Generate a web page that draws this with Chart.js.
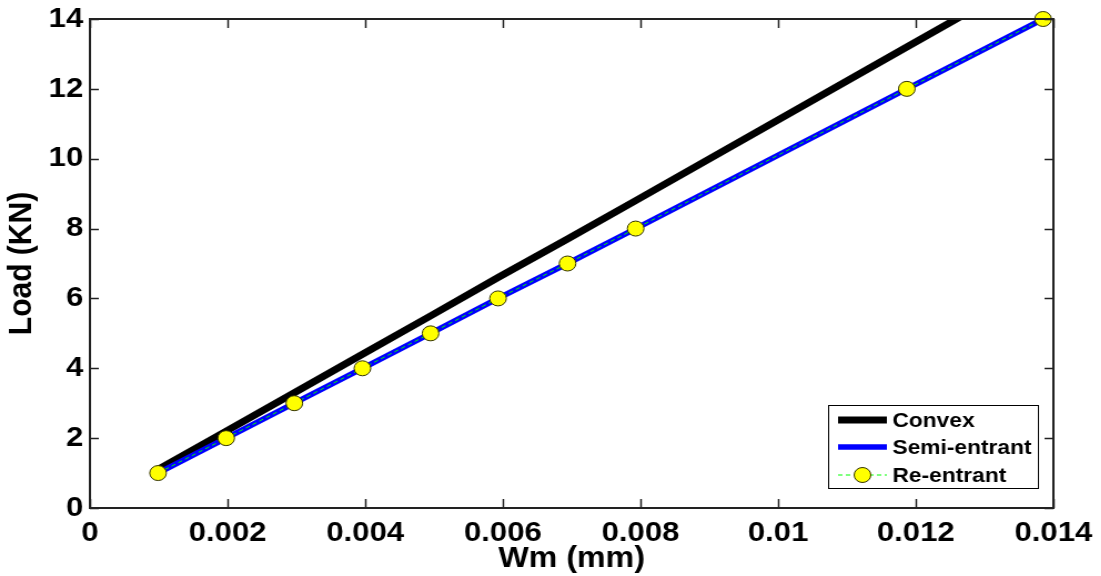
<!DOCTYPE html>
<html>
<head>
<meta charset="utf-8">
<script src="https://cdn.jsdelivr.net/npm/chart.js@4.4.1/dist/chart.umd.min.js"></script>
<style>
  html, body { margin: 0; padding: 0; background: #fff; overflow: hidden; }
  #wrap { width: 992px; height: 576px; transform: scaleX(1.11); transform-origin: 0 0; }
</style>
</head>
<body>
<div id="wrap"><canvas id="loadChart" width="992" height="576"></canvas></div>
<script>
// values
const wm = [0.00099, 0.00198, 0.00297, 0.00396, 0.00495, 0.00593, 0.00694, 0.00793, 0.01187, 0.01385];
const loadConvex = [1.1, 2.2, 3.3, 4.4, 5.5, 6.6, 7.7, 8.8, 13.2, 15.4];
const loadSemi = [1, 2, 3, 4, 5, 6, 7, 8, 12, 14];
const loadRe = [1, 2, 3, 4, 5, 6, 7, 8, 12, 14];
const seriesNames = ['Convex', 'Semi-entrant', 'Re-entrant'];

function toPoints(ys) {
    let pts = [];
    for (let i = 0; i < wm.length; i++) {
        pts.push({x: wm[i], y: ys[i]});
    }
    return pts;
}

Chart.defaults.font.family = "'Liberation Sans', Arial, sans-serif";
Chart.defaults.font.weight = 'bold';
Chart.defaults.color = '#000';

// inward ticks on all four sides plus the box
const frameTicks = {
    id: 'frameTicks',
    afterDraw(chart) {
        const ctx = chart.ctx;
        const a = chart.chartArea;
        const xs = chart.scales.x, ys = chart.scales.y;
        ctx.save();
        ctx.strokeStyle = '#222';
        ctx.lineWidth = 1.5;
        ctx.beginPath();
        xs.ticks.forEach(t => {
            const px = Math.round(xs.getPixelForValue(t.value)) + 0.5;
            ctx.moveTo(px, a.bottom); ctx.lineTo(px, a.bottom - 9);
            ctx.moveTo(px, a.top); ctx.lineTo(px, a.top + 9);
        });
        ys.ticks.forEach(t => {
            const py = Math.round(ys.getPixelForValue(t.value)) + 0.5;
            ctx.moveTo(a.left, py); ctx.lineTo(a.left + 8, py);
            ctx.moveTo(a.right, py); ctx.lineTo(a.right - 8, py);
        });
        ctx.stroke();
        ctx.lineWidth = 2;
        ctx.strokeRect(a.left, a.top, a.right - a.left, a.bottom - a.top);
        ctx.restore();
    }
};

// legend box inside the plot, bottom right
const boxLegend = {
    id: 'boxLegend',
    afterDraw(chart) {
        const ctx = chart.ctx;
        const left = 746, top = 405, w = 189, h = 83;
        ctx.save();
        ctx.fillStyle = '#fff';
        ctx.fillRect(left, top, w, h);
        ctx.strokeStyle = '#000';
        ctx.lineWidth = 1;
        ctx.strokeRect(left + 0.5, top + 0.5, w, h);
        const rows = [420, 447, 475];
        ctx.font = "bold 20.5px 'Liberation Sans', Arial, sans-serif";
        ctx.textBaseline = 'middle';
        chart.data.datasets.forEach((ds, i) => {
            const y = rows[i];
            ctx.beginPath();
            ctx.strokeStyle = ds.borderColor;
            ctx.lineWidth = ds.borderWidth;
            ctx.setLineDash(ds.borderDash || []);
            ctx.moveTo(755, y);
            ctx.lineTo(799, y);
            ctx.stroke();
            ctx.setLineDash([]);
            if (ds.pointRadius > 0) {
                ctx.beginPath();
                ctx.arc(777, y, ds.pointRadius, 0, Math.PI * 2);
                ctx.fillStyle = ds.pointBackgroundColor;
                ctx.fill();
                ctx.lineWidth = ds.pointBorderWidth;
                ctx.strokeStyle = ds.pointBorderColor;
                ctx.stroke();
            }
            ctx.fillStyle = '#000';
            ctx.fillText(ds.label, 804, y + 1);
        });
        ctx.restore();
    }
};

const ctx = document.getElementById('loadChart').getContext('2d');
const chart = new Chart(ctx, {
    type: 'line',
    data: {
        datasets: [{
            label: seriesNames[0],
            data: toPoints(loadConvex),
            borderColor: '#000000',
            borderWidth: 7,
            pointRadius: 0,
            tension: 0,
            clip: 0,
            order: 3
        }, {
            label: seriesNames[1],
            data: toPoints(loadSemi),
            borderColor: '#0000ff',
            borderWidth: 5.5,
            pointRadius: 0,
            tension: 0,
            order: 2
        }, {
            label: seriesNames[2],
            data: toPoints(loadRe),
            borderColor: '#00ff00',
            borderWidth: 1,
            borderDash: [4, 3],
            pointRadius: 7.5,
            pointHoverRadius: 7.5,
            pointBackgroundColor: '#ffff00',
            pointBorderColor: '#333300',
            pointBorderWidth: 1,
            tension: 0,
            clip: false,
            order: 1
        }]
    },
    options: {
        responsive: false,
        animation: false,
        layout: { padding: { left: 0, right: 43, top: 19, bottom: 0 } },
        plugins: { legend: { display: false }, tooltip: { enabled: false } },
        scales: {
            x: {
                type: 'linear',
                min: 0,
                max: 0.014,
                grid: { display: false, drawTicks: false },
                border: { display: false },
                ticks: {
                    stepSize: 0.002,
                    padding: 8,
                    maxRotation: 0,
                    font: { size: 28, weight: 'bold' },
                    callback: function(v) { return parseFloat(v.toFixed(3)).toString(); }
                },
                title: {
                    display: true,
                    text: 'Wm (mm)',
                    font: { size: 29, weight: 'bold' },
                    padding: { top: 0, bottom: 0 }
                },
                afterFit: function(scale) {
                    scale.height = 68;
                    scale.paddingLeft = 0;
                    scale.paddingRight = 0;
                }
            },
            y: {
                min: 0,
                max: 14,
                grid: { display: false, drawTicks: false },
                border: { display: false },
                ticks: {
                    stepSize: 2,
                    padding: 6,
                    font: { size: 28, weight: 'bold' }
                },
                title: {
                    display: true,
                    text: 'Load (KN)',
                    font: { size: 30, weight: 'bold' },
                    padding: { top: 2, bottom: 0 }
                },
                afterFit: function(scale) {
                    scale.width = 81;
                    scale.paddingTop = 0;
                    scale.paddingBottom = 0;
                }
            }
        }
    },
    plugins: [frameTicks, boxLegend]
});
</script>
</body>
</html>
